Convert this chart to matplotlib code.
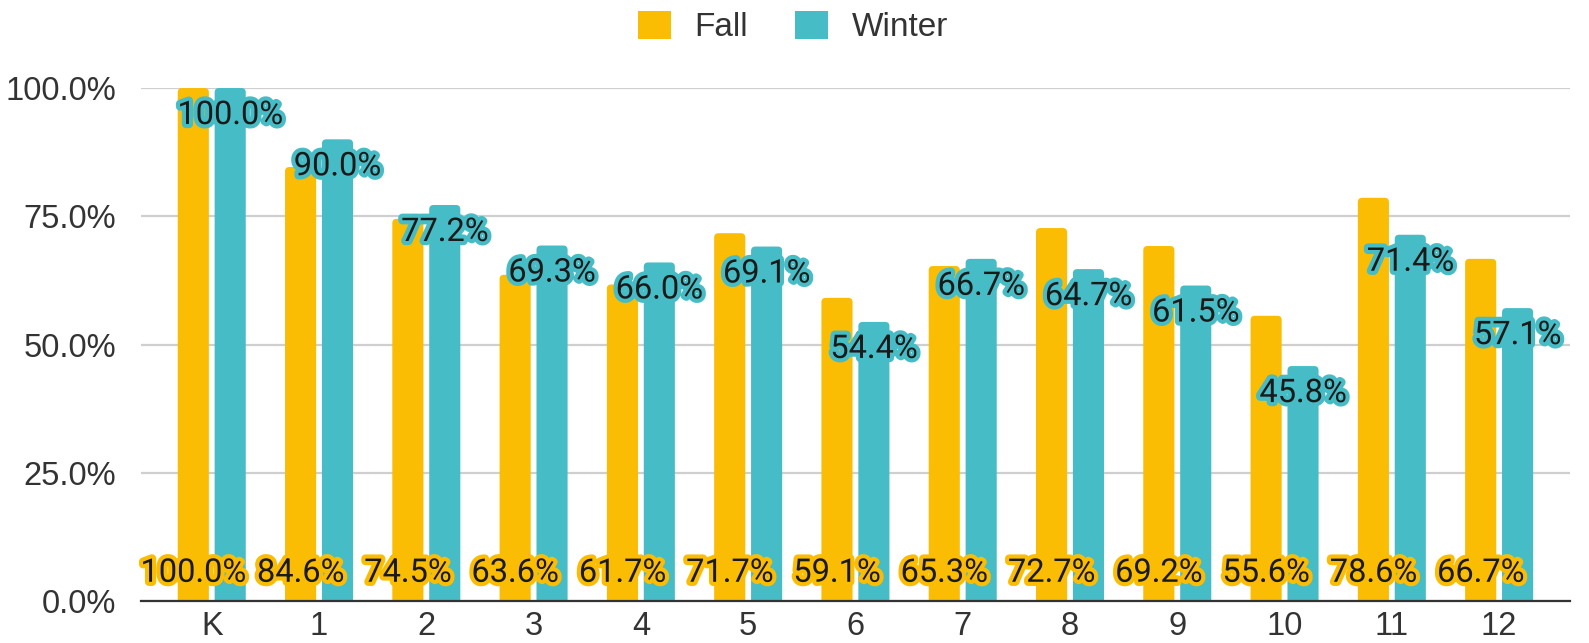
import matplotlib.pyplot as plt
import matplotlib.patheffects as pe
from matplotlib.patches import FancyBboxPatch, Patch
from matplotlib.transforms import ScaledTranslation
import numpy as np

grades = ['K', '1', '2', '3', '4', '5', '6', '7', '8', '9', '10', '11', '12']
fall = [100.0, 84.6, 74.5, 63.6, 61.7, 71.7, 59.1, 65.3, 72.7, 69.2, 55.6, 78.6, 66.7]
winter = [100.0, 90.0, 77.2, 69.3, 66.0, 69.1, 54.4, 66.7, 64.7, 61.5, 45.8, 71.4, 57.1]

fall_color = '#FBBC04'
winter_color = '#46BDC6'
text_font = ['Liberation Sans', 'DejaVu Sans']
label_font = ['Roboto', 'DejaVu Sans']

fig = plt.figure(figsize=(15.89, 6.43), dpi=100)
ax = fig.add_axes([0.0887, 0.0653, 0.8993, 0.7978])
ax.set_xlim(-0.66, 12.66)
ax.set_ylim(0, 100)

x = np.arange(len(grades))
w = 0.29
off = 0.172
bars_f = ax.bar(x - off, fall, w, color=fall_color, zorder=2)
bars_w = ax.bar(x + off, winter, w, color=winter_color, zorder=2)

# swap the plain rectangles for ones with rounded tops
aspect = (100 / 513) / (13.32 / 1429)
for bars in (bars_f, bars_w):
    for r in bars:
        r.set_visible(False)
        p = FancyBboxPatch((r.get_x(), -3), r.get_width(), r.get_height() + 3,
                           boxstyle='round,pad=0,rounding_size=0.04',
                           mutation_aspect=aspect, facecolor=r.get_facecolor(),
                           edgecolor='none', zorder=2)
        ax.add_patch(p)

# value labels: fall along the bottom, winter just under the bar top
shift = ScaledTranslation(0, -27 / 100, fig.dpi_scale_trans)
for i in range(len(grades)):
    ax.text(x[i] - off, 5.5, f'{fall[i]:.1f}%', ha='center', va='center',
            fontsize=23.5, family=label_font, color='#1a1a1a', zorder=4,
            path_effects=[pe.withStroke(linewidth=6, foreground=fall_color)])
    ax.text(x[i] + off, winter[i], f'{winter[i]:.1f}%', ha='center', va='center',
            fontsize=23.5, family=label_font, color='#1a1a1a', zorder=5,
            transform=ax.transData + shift,
            path_effects=[pe.withStroke(linewidth=6, foreground=winter_color)])

ax.set_yticks([0, 25, 50, 75, 100])
ax.set_yticklabels(['0.0%', '25.0%', '50.0%', '75.0%', '100.0%'])
ax.set_xticks(x)
ax.set_xticklabels(grades)
for lbl in ax.get_xticklabels() + ax.get_yticklabels():
    lbl.set_family(text_font)
    lbl.set_fontsize(23.5)
    lbl.set_color('#333333')
ax.tick_params(axis='y', length=0, pad=18)
ax.tick_params(axis='x', length=0, pad=7)

ax.yaxis.grid(True, color='#cfcfcf', linewidth=1.6, zorder=0)
ax.set_axisbelow(True)
for s in ['top', 'right', 'left']:
    ax.spines[s].set_visible(False)
ax.spines['bottom'].set_color('#333333')
ax.spines['bottom'].set_linewidth(1.6)
ax.spines['bottom'].set_zorder(3)

handles = [Patch(facecolor=fall_color, label='Fall'),
           Patch(facecolor=winter_color, label='Winter')]
fig.legend(handles=handles, loc='center', bbox_to_anchor=(0.499, 0.958), ncol=2,
           frameon=False, prop={'family': text_font, 'size': 24},
           handlelength=1.0, handleheight=0.9, handletextpad=0.7,
           columnspacing=1.4, labelcolor='#333333')

fig.savefig('out.png', dpi=100)
